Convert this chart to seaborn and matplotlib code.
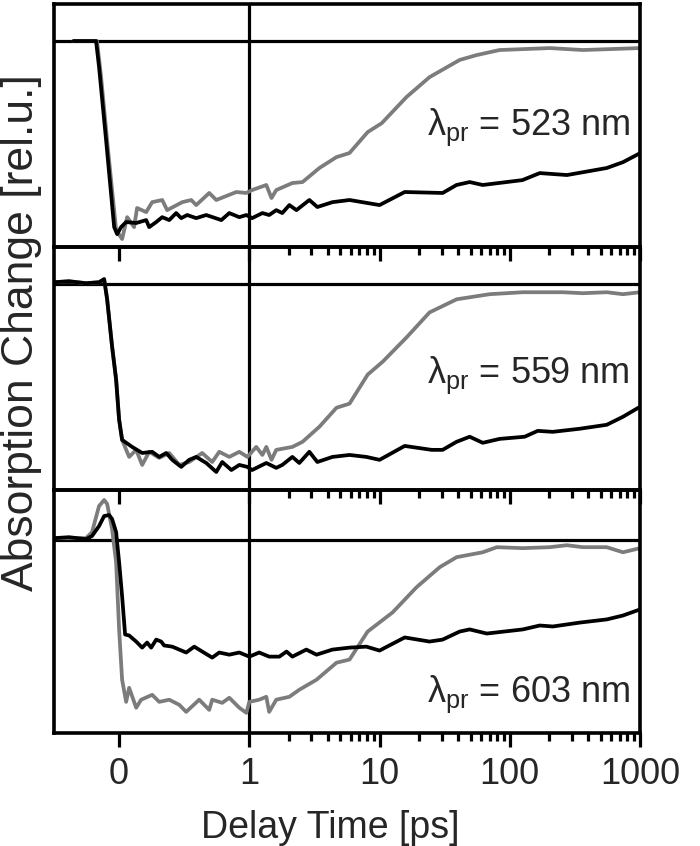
import numpy as np
import pandas as pd
import matplotlib
matplotlib.use('Agg')
import matplotlib.pyplot as plt
import seaborn as sns

# Probe wavelengths (one panel each)
wavelengths = ['523', '559', '603']

# Delay times [ps] and absorption change [rel.u.]
# 523 nm
t_523_black = [-0.35, -0.177, -0.154, -0.10, -0.038, -0.015, 0.015, 0.054, 0.131, 0.208, 0.231, 0.285,
               0.331, 0.385, 0.438, 0.477, 0.523, 0.592, 0.669, 0.785, 0.846, 0.923, 0.977,
               1.05, 1.26, 1.42, 1.61, 1.79, 2.03, 2.30, 2.89, 3.33, 4.35, 5.88, 10.0, 15.6, 30.5,
               39.0, 49.2, 62.0, 125, 170, 275, 555, 740, 1000]
v_523_black = [0.0, 0.0, -0.133, -0.508, -0.954, -0.990, -0.954, -0.928, -0.933, -0.918, -0.954, -0.928,
               -0.903, -0.918, -0.882, -0.908, -0.892, -0.908, -0.892, -0.918, -0.882, -0.903, -0.892,
               -0.908, -0.882, -0.892, -0.867, -0.882, -0.841, -0.867, -0.815, -0.851, -0.826, -0.815,
               -0.841, -0.774, -0.779, -0.738, -0.723, -0.738, -0.713, -0.677, -0.687, -0.651, -0.621, -0.575]
t_523_gray = [-0.35, -0.17, -0.14, -0.085, -0.023, 0.023, 0.062, 0.115, 0.138, 0.208, 0.254, 0.331,
              0.369, 0.485, 0.554, 0.592, 0.692, 0.746, 0.90, 0.977, 1.05, 1.35, 1.48, 1.61, 2.14,
              2.56, 3.45, 4.67, 5.88, 8.1, 10.4, 16.1, 24.2, 41.2, 55.6, 83.5, 203, 364, 1000]
v_523_gray = [0.0, 0.0, -0.174, -0.559, -0.969, -1.015, -0.903, -0.954, -0.856, -0.877, -0.826, -0.815,
              -0.867, -0.826, -0.815, -0.841, -0.779, -0.815, -0.774, -0.779, -0.764, -0.738, -0.805,
              -0.764, -0.728, -0.723, -0.651, -0.595, -0.574, -0.467, -0.421, -0.287, -0.185, -0.097,
              -0.072, -0.046, -0.036, -0.046, -0.036]

# 559 nm
t_559_black = [-0.5, -0.385, -0.254, -0.154, -0.115, -0.092, -0.054, -0.023, 0.0, 0.023, 0.10, 0.177,
               0.254, 0.308, 0.362, 0.408, 0.477, 0.538, 0.592, 0.669, 0.746, 0.792, 0.862, 0.923,
               0.985, 1.05, 1.35, 1.61, 1.79, 2.14, 2.42, 2.89, 3.33, 4.35, 5.88, 7.92, 10.0, 15.6,
               25.1, 30.5, 39.0, 49.2, 62.0, 83.5, 130, 164, 214, 346, 555, 740, 1000]
v_559_black = [0.010, 0.015, 0.005, 0.010, 0.026, -0.077, -0.318, -0.487, -0.692, -0.795, -0.831, -0.862,
               -0.856, -0.882, -0.862, -0.897, -0.933, -0.897, -0.882, -0.913, -0.959, -0.908, -0.949,
               -0.923, -0.933, -0.949, -0.913, -0.938, -0.923, -0.882, -0.913, -0.856, -0.908, -0.882,
               -0.872, -0.882, -0.897, -0.826, -0.846, -0.846, -0.805, -0.779, -0.810, -0.790, -0.779,
               -0.749, -0.754, -0.738, -0.718, -0.677, -0.626]
t_559_gray = [-0.5, -0.385, -0.254, -0.154, -0.115, -0.092, -0.054, -0.023, 0.0, 0.023, 0.077, 0.131,
              0.177, 0.231, 0.308, 0.385, 0.462, 0.538, 0.638, 0.715, 0.769, 0.846, 0.923, 0.985,
              1.13, 1.26, 1.35, 1.48, 1.61, 2.14, 2.56, 3.45, 4.67, 5.88, 8.1, 10.6, 16.1, 24.2,
              39.1, 70.1, 126, 255, 364, 555, 740, 1000]
v_559_gray = [0.010, 0.015, 0.005, 0.010, 0.026, -0.077, -0.318, -0.487, -0.692, -0.795, -0.882, -0.846,
              -0.923, -0.856, -0.887, -0.862, -0.923, -0.908, -0.862, -0.908, -0.856, -0.882, -0.856,
              -0.882, -0.831, -0.872, -0.831, -0.897, -0.846, -0.831, -0.805, -0.728, -0.631, -0.610,
              -0.462, -0.395, -0.272, -0.144, -0.077, -0.051, -0.041, -0.041, -0.046, -0.041, -0.051,
              -0.041]

# 603 nm
t_603_black = [-0.5, -0.385, -0.254, -0.208, -0.154, -0.115, -0.077, -0.054, -0.023, 0.0, 0.023, 0.046,
               0.077, 0.131, 0.177, 0.215, 0.246, 0.285, 0.323, 0.346, 0.408, 0.515, 0.577, 0.638,
               0.715, 0.769, 0.846, 0.923, 1.0, 1.19, 1.42, 1.70, 1.93, 2.14, 2.74, 3.28, 4.35, 5.88,
               7.92, 10.0, 15.6, 24.2, 30.5, 41.2, 49.2, 66.6, 126, 170, 214, 346, 555, 740, 1000]
v_603_black = [0.010, 0.015, 0.005, 0.021, 0.072, 0.123, 0.128, 0.108, 0.041, -0.113, -0.287, -0.482,
               -0.487, -0.518, -0.549, -0.523, -0.549, -0.508, -0.518, -0.538, -0.544, -0.574, -0.544,
               -0.569, -0.600, -0.574, -0.585, -0.574, -0.595, -0.574, -0.595, -0.595, -0.569, -0.595,
               -0.559, -0.585, -0.559, -0.549, -0.544, -0.564, -0.497, -0.518, -0.508, -0.467, -0.456,
               -0.477, -0.456, -0.436, -0.441, -0.421, -0.405, -0.385, -0.354]
t_603_gray = [-0.5, -0.254, -0.208, -0.154, -0.115, -0.092, -0.054, -0.023, 0.0, 0.023, 0.054, 0.077,
              0.131, 0.169, 0.254, 0.308, 0.385, 0.462, 0.515, 0.615, 0.692, 0.715, 0.792, 0.846,
              0.923, 0.977, 1.0, 1.19, 1.35, 1.42, 1.61, 2.03, 2.42, 3.28, 4.67, 5.88, 8.1, 12.6,
              19.2, 29.0, 39.1, 62.0, 79.6, 126, 203, 274, 364, 555, 740, 1000]
v_603_gray = [0.010, 0.010, 0.041, 0.174, 0.205, 0.185, 0.056, -0.113, -0.456, -0.713, -0.826, -0.754,
              -0.856, -0.815, -0.790, -0.826, -0.815, -0.841, -0.877, -0.815, -0.867, -0.815, -0.831,
              -0.805, -0.856, -0.882, -0.826, -0.815, -0.800, -0.877, -0.815, -0.800, -0.764, -0.713,
              -0.626, -0.610, -0.467, -0.369, -0.241, -0.138, -0.087, -0.062, -0.036, -0.041, -0.036,
              -0.026, -0.036, -0.036, -0.062, -0.041]

series = {
    '523': [(t_523_black, v_523_black), (t_523_gray, v_523_gray)],
    '559': [(t_559_black, v_559_black), (t_559_gray, v_559_gray)],
    '603': [(t_603_black, v_603_black), (t_603_gray, v_603_gray)],
}
y_limits = {'523': (-1.056, 0.19), '559': (-1.051, 0.19), '603': (-0.985, 0.256)}
label_y = {'523': 0.461, '559': 0.44, '603': 0.128}

major_ticks = [0, 1, 10, 100, 1000]
major_labels = ['0', '1', '10', '100', '1000']
minor_ticks = [m * d for d in [1, 10, 100] for m in range(2, 10)]

sns.set_style('white')
plt.rcParams['font.family'] = ['Liberation Sans', 'DejaVu Sans']
plt.rcParams['mathtext.fontset'] = 'custom'
plt.rcParams['mathtext.rm'] = 'Liberation Sans'


# linear below 1 ps, log10 above
def fwd(x):
    x = np.asarray(x, dtype=float)
    return np.where(x < 1, x, 1 + np.log10(np.maximum(x, 1)))


def inv(y):
    y = np.asarray(y, dtype=float)
    return np.where(y < 1, y, 10 ** (np.maximum(y, 1) - 1))


fig = plt.figure(figsize=(7, 8.46), dpi=100)
left, width = 54 / 700, 586 / 700
height = 243 / 846
bottom0 = 1 - 733 / 846

for i, wl in enumerate(wavelengths):
    ax = fig.add_axes([left, bottom0 + (2 - i) * height, width, height])
    ax.set_facecolor('none')
    ax.set_xscale('function', functions=(fwd, inv))

    frames = []
    for (tt, vv), name in zip(series[wl], ['black', 'gray']):
        frames.append(pd.DataFrame({'t': tt, 'v': vv, 'trace': name}))
    df = pd.concat(frames, ignore_index=True)

    sns.lineplot(data=df, x='t', y='v', hue='trace', hue_order=['gray', 'black'],
                 palette={'black': 'black', 'gray': '#7c7c7c'}, estimator=None,
                 linewidth=2.7, legend=False, ax=ax)

    ax.axhline(0, color='black', lw=2.3, zorder=1)
    ax.axvline(1, color='black', lw=2.3, zorder=1)

    ax.set_xlim(-0.5, 1000)
    ax.set_ylim(*y_limits[wl])
    ax.set_yticks([])
    ax.set_xticks(major_ticks)
    ax.set_xticks(minor_ticks, minor=True)
    ax.set_xticklabels(major_labels)
    ax.set_xlabel('')
    ax.set_ylabel('')
    ax.tick_params(axis='x', which='major', direction='out', length=10, width=2.3,
                   labelsize=26, pad=7, bottom=True, top=False, color='black')
    ax.tick_params(axis='x', which='minor', direction='out', length=5.5, width=2.3,
                   bottom=True, top=False, color='black')
    if i < 2:
        ax.tick_params(axis='x', which='both', labelbottom=False)
    for s in ax.spines.values():
        s.set_linewidth(2.6)
        s.set_color('black')

    ax.text(0.983, label_y[wl], r'$\mathrm{\lambda}_{\mathrm{pr}}$ = ' + wl + ' nm',
            transform=ax.transAxes, ha='right', va='baseline', fontsize=26)

fig.text(22 / 700, 1 - 333 / 846, 'Absorption Change [rel.u.]', rotation=90,
         ha='center', va='center', fontsize=32)
fig.text(330 / 700, 8 / 846, 'Delay Time [ps]', ha='center', va='baseline', fontsize=27)

fig.savefig('out.png', dpi=100, facecolor='white')
